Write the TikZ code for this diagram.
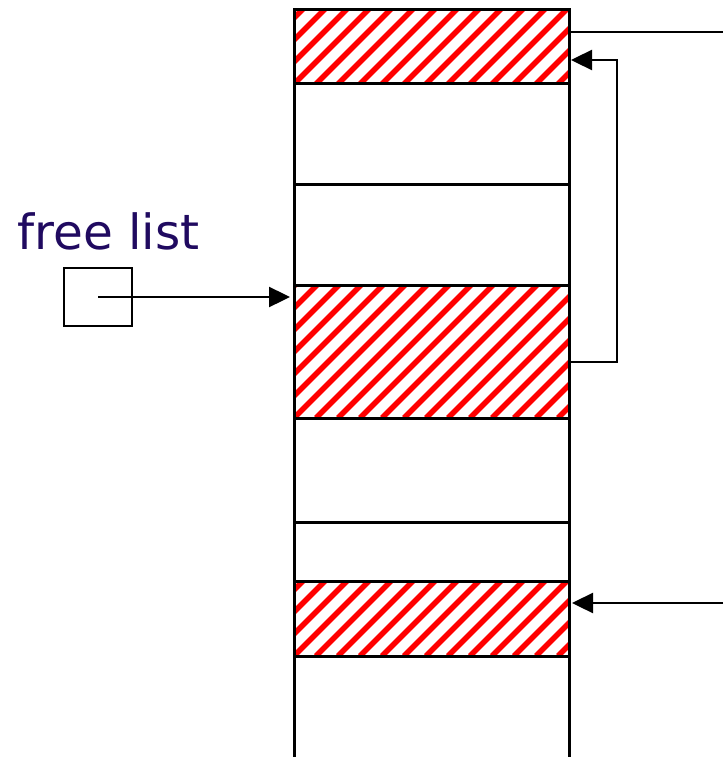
\documentclass[tikz,border=0pt]{standalone}
\usepackage{fontspec}
\newfontfamily\labelfont{DejaVu Sans}
\usetikzlibrary{arrows.meta,calc}
\definecolor{navy}{RGB}{32,10,96}
\definecolor{hatchred}{RGB}{255,0,0}
\tikzset{
  block/.style={draw=black, line width=3pt, inner sep=0pt, outer sep=0pt, minimum width=275pt},
  stripe/.style={hatchred, line width=5.5pt},
  frame/.style={draw=black, line width=3pt},
  arr/.style={line width=2.4pt, -{Triangle[length=21pt,width=20pt]}},
  plain/.style={line width=2.4pt},
  fbox/.style={draw=black, line width=2.4pt, inner sep=0pt, outer sep=0pt, minimum width=68pt, minimum height=58pt},
}
\begin{document}
\begin{tikzpicture}[x=1pt,y=-1pt]
\clip (0,0) rectangle (723,757);
\fill[white] (0,0) rectangle (723,757);
% memory blocks
\node[block, minimum height=74pt]  (b1) at (431.5,47) {};
\node[block, minimum height=100pt] (b2) at (431.5,134) {};
\node[block, minimum height=101pt] (b3) at (431.5,234.5) {};
\node[block, minimum height=133pt] (b4) at (431.5,351.5) {};
\node[block, minimum height=104pt] (b5) at (431.5,470) {};
\node[block, minimum height=59pt]  (b6) at (431.5,551.5) {};
\node[block, minimum height=75pt]  (b7) at (431.5,618.5) {};
\node[block, minimum height=120pt] (b8) at (431.5,716) {};
% hatching of the used blocks
\foreach \n in {b1,b4,b7} {
  \begin{scope}
    \clip (\n.south west) rectangle (\n.north east);
    \foreach \i in {-8,...,14}
      \draw[stripe] ($(\n.south west)+(\i*22,0)$) -- ++(170,-170);
  \end{scope}
  \draw[frame] (\n.south west) rectangle (\n.north east);
}
% free list
\node[anchor=base west, text=navy, font=\labelfont\fontsize{48.5}{54}\selectfont, inner sep=0pt] (lbl) at (17,249) {free list};
\node[fbox] (fl) at (98,297) {};
% connectors
\coordinate (tr) at (723,32);
\draw[plain] (tr -| b1.east) -- (tr);
\coordinate (loopA) at (617,362);
\coordinate (loopB) at (617,60);
\draw[arr, shorten >=2pt] (loopA -| b4.east) -- (loopA) -- (loopB) -- (loopB -| b1.east);
\coordinate (br) at (723,603);
\draw[arr, shorten >=3pt] (br) -- (br -| b7.east);
\draw[arr, shorten >=4pt] (fl.center) -- (fl.center -| b4.west);
\end{tikzpicture}
\end{document}
